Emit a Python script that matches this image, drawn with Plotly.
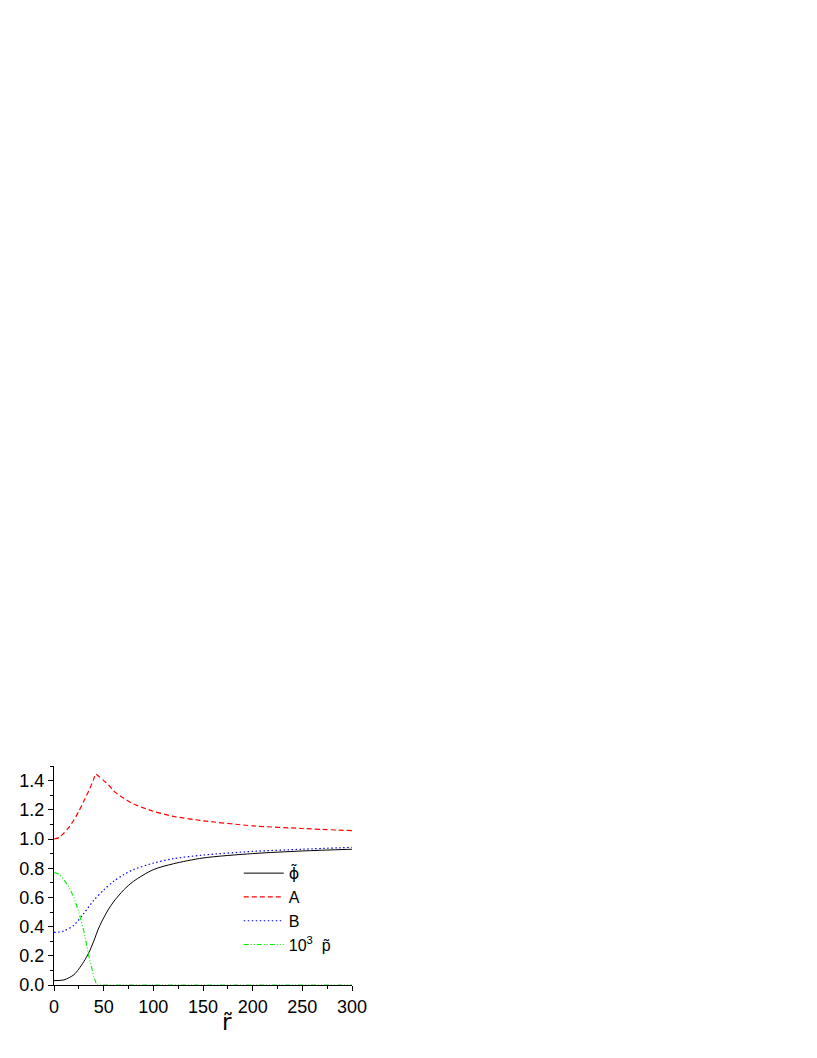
import plotly.graph_objects as go

# data
r_phi = [0, 10, 20, 25, 30, 35, 40, 45, 50, 55, 60, 70, 80, 100, 120, 150, 200, 250, 300]
phi = [0.03, 0.035, 0.07, 0.11, 0.16, 0.22, 0.30, 0.39, 0.46, 0.52, 0.57, 0.65, 0.71, 0.79, 0.83, 0.87, 0.90, 0.918, 0.93]

r_A = [0, 5, 10, 15, 20, 25, 30, 35, 40, 42, 45, 50, 55, 60, 70, 80, 100, 120, 150, 200, 250, 300]
A = [1.0, 1.01, 1.04, 1.08, 1.13, 1.19, 1.26, 1.33, 1.41, 1.445, 1.43, 1.40, 1.37, 1.33, 1.28, 1.24, 1.19, 1.155, 1.125, 1.09, 1.072, 1.057]

r_B = [0, 10, 20, 30, 40, 50, 60, 70, 80, 100, 120, 150, 200, 250, 300]
B = [0.36, 0.37, 0.41, 0.49, 0.58, 0.65, 0.71, 0.755, 0.79, 0.835, 0.865, 0.89, 0.915, 0.93, 0.943]

r_p = [0, 5, 10, 15, 20, 25, 30, 35, 40, 43, 60, 100, 150, 200, 250, 300]
p = [0.77, 0.76, 0.72, 0.67, 0.60, 0.50, 0.37, 0.20, 0.06, 0.0, 0, 0, 0, 0, 0, 0]

x_ticks = [0, 50, 100, 150, 200, 250, 300]
y_ticks = [0.0, 0.2, 0.4, 0.6, 0.8, 1.0, 1.2, 1.4]

FONT = "Liberation Sans, Arial, sans-serif"

fig = go.Figure()
fig.add_trace(go.Scatter(x=r_phi, y=phi, mode="lines",
                         name="<span style='font-family:DejaVu Sans'>ϕ̃</span>",
                         line=dict(color="black", width=1, shape="spline", smoothing=0.8)))
fig.add_trace(go.Scatter(x=r_A, y=A, mode="lines", name="A",
                         line=dict(color="red", width=1.2, dash="5px,3px", shape="spline", smoothing=0.6)))
fig.add_trace(go.Scatter(x=r_B, y=B, mode="lines", name="B",
                         line=dict(color="blue", width=1.2, dash="1.5px,2.5px", shape="spline", smoothing=0.8)))
fig.add_trace(go.Scatter(x=r_p, y=p, mode="lines", name="10<sup>3</sup>  p̃",
                         line=dict(color="#00ee00", width=1.1, dash="5px,2px,1px,2px,1px,2px")))

axis_common = dict(
    showline=True, linecolor="black", linewidth=1, mirror=False,
    showgrid=False, zeroline=False,
    ticks="outside", ticklen=5, tickwidth=1, tickcolor="black",
    tickfont=dict(family=FONT, size=18, color="black"),
)

fig.update_xaxes(range=[0, 300], tickvals=x_ticks,
                 minor=dict(ticks="outside", ticklen=3, tickwidth=1, tickcolor="black", dtick=25),
                 **axis_common)
fig.update_yaxes(range=[0, 1.5], tickvals=y_ticks, ticktext=[f"{v:.1f}" for v in y_ticks],
                 minor=dict(ticks="outside", ticklen=3, tickwidth=1, tickcolor="black", dtick=0.1),
                 **axis_common)

# x title sits a bit right of centre in the reference
fig.add_annotation(text="r̃", xref="paper", yref="paper", x=0.58, y=0, yshift=-37,
                   xanchor="center", yanchor="middle", showarrow=False,
                   font=dict(family="DejaVu Sans", size=23, color="black"))

# page body has an 8px margin, so margins are trimmed by 8px
fig.update_layout(
    width=817, height=1058,
    margin=dict(l=46, r=473, t=758, b=81),
    paper_bgcolor="white", plot_bgcolor="white",
    showlegend=True,
    legend=dict(x=0.62, y=0.588, xanchor="left", yanchor="top",
                bgcolor="rgba(0,0,0,0)", font=dict(family=FONT, size=16, color="black"),
                tracegroupgap=0, itemwidth=40),
)

fig.write_html("out.html")
